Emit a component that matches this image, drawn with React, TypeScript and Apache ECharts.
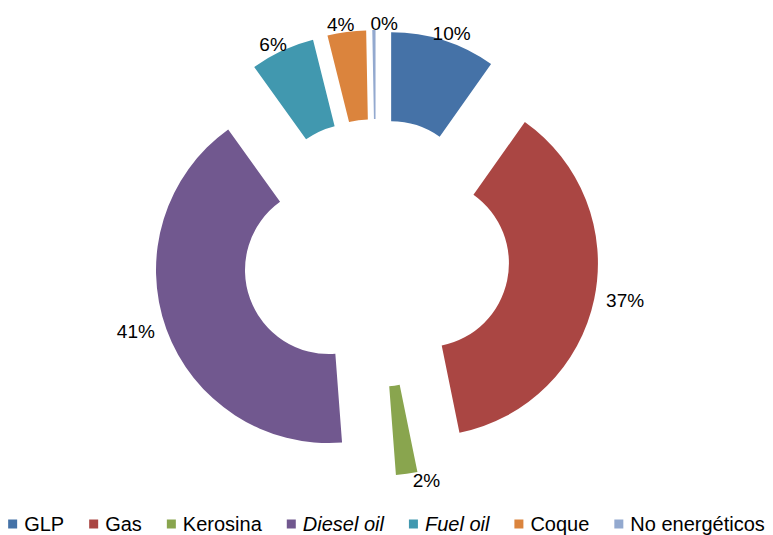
import React, { useEffect, useRef } from "react";
import * as echarts from "echarts";

const categories = ["GLP", "Gas", "Kerosina", "Diesel oil", "Fuel oil", "Coque", "No energéticos"];
const values = [9.8, 37.0, 2.0, 41.3, 6.0, 3.6, 0.3];
const colors = ["#4572A7", "#AA4643", "#89A54E", "#71588F", "#4198AF", "#DB843D", "#93A9CF"];
const italicNames = ["Diesel oil", "Fuel oil"];

const FONT = "'Liberation Sans', Arial, sans-serif";

export default function App() {
  const ref = useRef<HTMLDivElement>(null);
  useEffect(() => {
    if (!ref.current) return;
    const chart = echarts.init(ref.current, null, { renderer: "svg" });
    const total = values.reduce((a, b) => a + b, 0);
    // mid angle of each slice, measured clockwise from 12 o'clock
    const midAngles: number[] = [];
    let acc = 0;
    values.forEach((v) => {
      midAngles.push(((acc + v / 2) / total) * Math.PI * 2);
      acc += v;
    });
    const placed: Record<number, { x0: number; x1: number; y0: number; y1: number }> = {};
    chart.setOption({
      animation: false,
      backgroundColor: "#ffffff",
      legend: {
        top: 509,
        left: "center",
        icon: "rect",
        itemWidth: 9,
        itemHeight: 9,
        itemGap: 25,
        data: categories,
        formatter: (name: string) => (italicNames.includes(name) ? `{i|${name}}` : name),
        textStyle: {
          fontFamily: FONT,
          fontSize: 20,
          color: "#000",
          padding: [0, 0, 0, 2],
          rich: {
            i: { fontFamily: FONT, fontSize: 20, fontStyle: "italic", color: "#000" },
          },
        },
      },
      series: [
        {
          type: "pie",
          center: [376, 253],
          radius: [84, 173],
          startAngle: 90,
          clockwise: true,
          selectedMode: "multiple",
          selectedOffset: 50,
          avoidLabelOverlap: false,
          minShowLabelAngle: 0,
          emphasis: { disabled: true },
          label: {
            show: true,
            position: "outside",
            fontFamily: FONT,
            fontSize: 19,
            color: "#000",
            formatter: (p: any) => `${Math.round(p.percent)}%`,
          },
          labelLine: { show: false, length: 7, length2: 0 },
          labelLayout: (params: any) => {
            const i = params.dataIndex;
            const a = midAngles[i];
            const c = Math.cos(a);
            const r = params.labelRect;
            let dx = 0;
            if (c > 0) {
              const s = Math.sin(a) >= 0 ? -1 : 1;
              dx = (s * r.width * c) / 2;
            }
            let x0 = r.x + dx;
            let x1 = x0 + r.width;
            const prev = placed[i - 1];
            if (
              prev &&
              r.y < prev.y1 &&
              r.y + r.height > prev.y0 &&
              x0 + x1 > prev.x0 + prev.x1 &&
              x0 < prev.x1 + 10
            ) {
              const push = prev.x1 + 10 - x0;
              dx += push;
              x0 += push;
              x1 += push;
            }
            placed[i] = { x0, x1, y0: r.y, y1: r.y + r.height };
            return { hideOverlap: false, dx };
          },
          data: categories.map((name, i) => ({
            name,
            value: values[i],
            selected: true,
            itemStyle: { color: colors[i] },
          })),
        },
      ],
    });
    return () => chart.dispose();
  }, []);
  return (
    <div
      ref={ref}
      style={{ position: "absolute", left: 0, top: 0, width: 773, height: 535, background: "#fff" }}
    />
  );
}
